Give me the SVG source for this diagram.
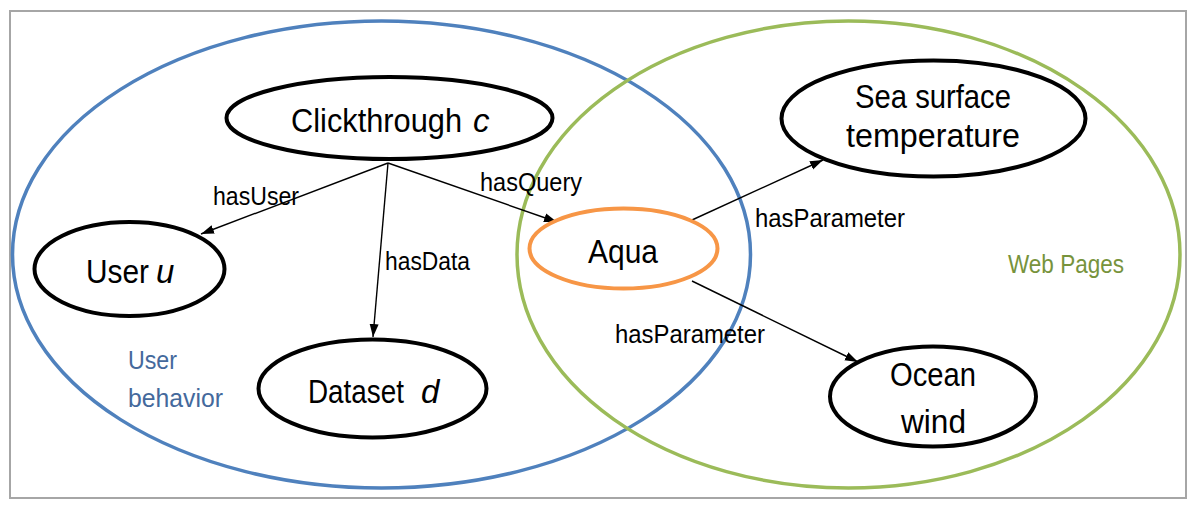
<svg xmlns="http://www.w3.org/2000/svg" width="1198" height="512" viewBox="0 0 1198 512">
<style>
text{font-family:"Liberation Sans",Arial,sans-serif;}
.node{fill:#fff;stroke:#000;stroke-width:4;}
.big{font-size:33px;fill:#000;}
.lbl{font-size:26px;fill:#000;}
.edge{stroke:#000;stroke-width:1.4;fill:none;marker-end:url(#ah);}
.it{font-style:italic;}
</style>
<defs>
<marker id="ah" markerUnits="userSpaceOnUse" markerWidth="14" markerHeight="10" refX="13" refY="5" orient="auto">
<path d="M0,0.5 L13,5 L0,9.5 Z" fill="#000"/>
</marker>
</defs>
<rect x="0" y="0" width="1198" height="512" fill="#fff"/>
<rect x="10" y="11" width="1176" height="487" fill="none" stroke="#a6a6a6" stroke-width="2"/>
<g id="group-user-behavior">
<ellipse cx="381.5" cy="254.5" rx="369" ry="233.5" fill="none" stroke="#4f81bd" stroke-width="3.5"/>
<text x="128" y="369" font-size="26" fill="#44699c" textLength="49" lengthAdjust="spacingAndGlyphs">User</text>
<text x="128" y="407" font-size="26" fill="#44699c" textLength="95" lengthAdjust="spacingAndGlyphs">behavior</text>
</g>
<g id="group-web-pages">
<ellipse cx="848.5" cy="254.5" rx="331.5" ry="233.5" fill="none" stroke="#9bbb59" stroke-width="3.5"/>
<text x="1008" y="273" font-size="26" fill="#77933c" textLength="116" lengthAdjust="spacingAndGlyphs">Web Pages</text>
</g>
<g id="connectors">
<line class="edge" x1="388" y1="163" x2="201" y2="234"/>
<line class="edge" x1="388" y1="163" x2="373" y2="337"/>
<line class="edge" x1="388" y1="163" x2="557" y2="222"/>
<line class="edge" x1="692" y1="220" x2="823" y2="160"/>
<line class="edge" x1="692" y1="281" x2="858" y2="362"/>
<text class="lbl" x="213" y="205" textLength="86" lengthAdjust="spacingAndGlyphs">hasUser</text>
<text class="lbl" x="385" y="270" textLength="85" lengthAdjust="spacingAndGlyphs">hasData</text>
<text class="lbl" x="480" y="191" textLength="102" lengthAdjust="spacingAndGlyphs">hasQuery</text>
<text class="lbl" x="755" y="227" textLength="150" lengthAdjust="spacingAndGlyphs">hasParameter</text>
<text class="lbl" x="615" y="343" textLength="150" lengthAdjust="spacingAndGlyphs">hasParameter</text>
</g>
<g id="node-clickthrough">
<ellipse class="node" cx="389.5" cy="118" rx="163" ry="41"/>
<text class="big" x="291" y="132" textLength="171" lengthAdjust="spacingAndGlyphs">Clickthrough</text>
<text class="big it" x="473" y="132">c</text>
</g>
<g id="node-user">
<ellipse class="node" cx="129.5" cy="269" rx="95" ry="47"/>
<text class="big" x="86" y="283" textLength="63" lengthAdjust="spacingAndGlyphs">User</text>
<text class="big it" x="156" y="283">u</text>
</g>
<g id="node-dataset">
<ellipse class="node" cx="372.5" cy="388.5" rx="114" ry="49"/>
<text class="big" x="308" y="403" textLength="96" lengthAdjust="spacingAndGlyphs">Dataset</text>
<text class="big it" x="421" y="403">d</text>
</g>
<g id="node-aqua">
<ellipse cx="623.5" cy="248.5" rx="94" ry="40" fill="#fff" stroke="#f79646" stroke-width="4"/>
<text class="big" x="588" y="263" textLength="70" lengthAdjust="spacingAndGlyphs">Aqua</text>
</g>
<g id="node-sst">
<ellipse class="node" cx="933.5" cy="118.5" rx="152" ry="58"/>
<text class="big" x="855" y="108" textLength="156" lengthAdjust="spacingAndGlyphs">Sea surface</text>
<text class="big" x="846" y="147" textLength="174" lengthAdjust="spacingAndGlyphs">temperature</text>
</g>
<g id="node-ocean-wind">
<ellipse class="node" cx="933" cy="396.5" rx="103" ry="50"/>
<text class="big" x="890" y="386" textLength="86" lengthAdjust="spacingAndGlyphs">Ocean</text>
<text class="big" x="901" y="433" textLength="65" lengthAdjust="spacingAndGlyphs">wind</text>
</g>
</svg>
